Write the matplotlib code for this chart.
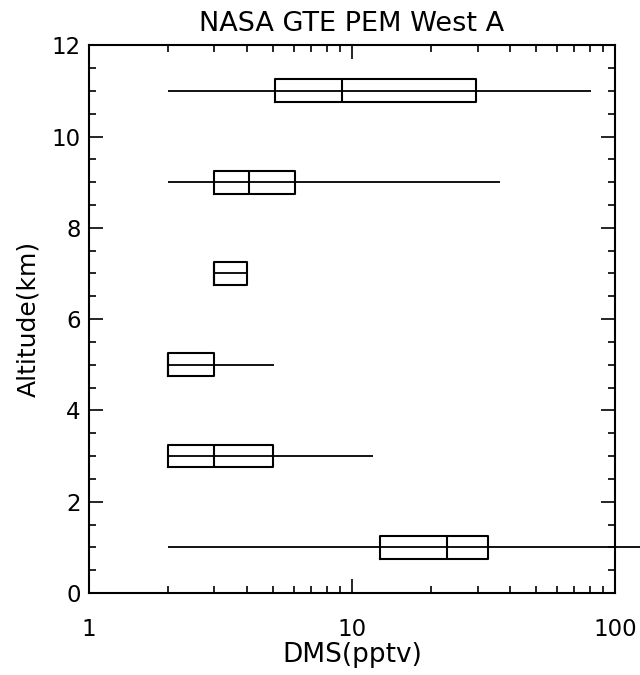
import matplotlib.pyplot as plt
from matplotlib.ticker import FixedLocator, FixedFormatter, MultipleLocator, LogLocator, NullFormatter

plt.rcParams["font.family"] = ["DejaVu Sans"]

# altitude bins (km) and DMS statistics (pptv)
altitude = [1, 3, 5, 7, 9, 11]
dms_min = [2.0, 2.0, 2.0, 3.0, 2.0, 2.0]
dms_q1 = [12.8, 2.0, 2.0, 3.0, 3.0, 5.1]
dms_med = [23.0, 3.0, 2.0, 3.0, 4.05, 9.2]
dms_q3 = [33.0, 5.0, 3.0, 4.0, 6.05, 29.6]
dms_max = [124.0, 12.0, 5.05, 4.0, 36.5, 81.0]

fig = plt.figure(figsize=(6.4, 6.75), dpi=100)
ax = fig.add_axes([0.139, 0.1215, 0.822, 0.8115])

# whisker line drawn right through each box
ax.hlines(altitude, dms_min, dms_max, colors="black", lw=1.3, clip_on=False, zorder=2)

stats = []
for i in range(len(altitude)):
    stats.append(dict(whislo=dms_q1[i], q1=dms_q1[i], med=dms_med[i],
                      q3=dms_q3[i], whishi=dms_q3[i], fliers=[]))
ax.bxp(stats, positions=altitude, widths=0.5, orientation="horizontal",
       showcaps=False, showfliers=False, manage_ticks=False,
       boxprops=dict(color="black", lw=1.5),
       medianprops=dict(color="black", lw=1.5),
       whiskerprops=dict(lw=0))

ax.set_xscale("log")
ax.set_xlim(1, 100)
ax.set_ylim(0, 12)

ax.xaxis.set_major_locator(FixedLocator([1, 10, 100]))
ax.xaxis.set_major_formatter(FixedFormatter(["1", "10", "100"]))
ax.xaxis.set_minor_locator(LogLocator(base=10, subs=range(2, 10)))
ax.xaxis.set_minor_formatter(NullFormatter())
ax.yaxis.set_major_locator(MultipleLocator(2))
ax.yaxis.set_minor_locator(MultipleLocator(0.5))

ax.tick_params(which="both", direction="in", top=True, right=True, width=1.2,
               labelsize=16.5)
ax.tick_params(axis="x", which="major", pad=18)
ax.tick_params(axis="y", which="major", pad=6)
ax.tick_params(which="major", length=10)
ax.tick_params(which="minor", length=5)
for s in ax.spines.values():
    s.set_linewidth(1.5)

ax.set_title("NASA GTE PEM West A", fontsize=19.5, pad=10)
ax.set_xlabel("DMS(pptv)", fontsize=19, labelpad=1)
ax.set_ylabel("Altitude(km)", fontsize=18, labelpad=8)

plt.savefig("out.png", dpi=100)
